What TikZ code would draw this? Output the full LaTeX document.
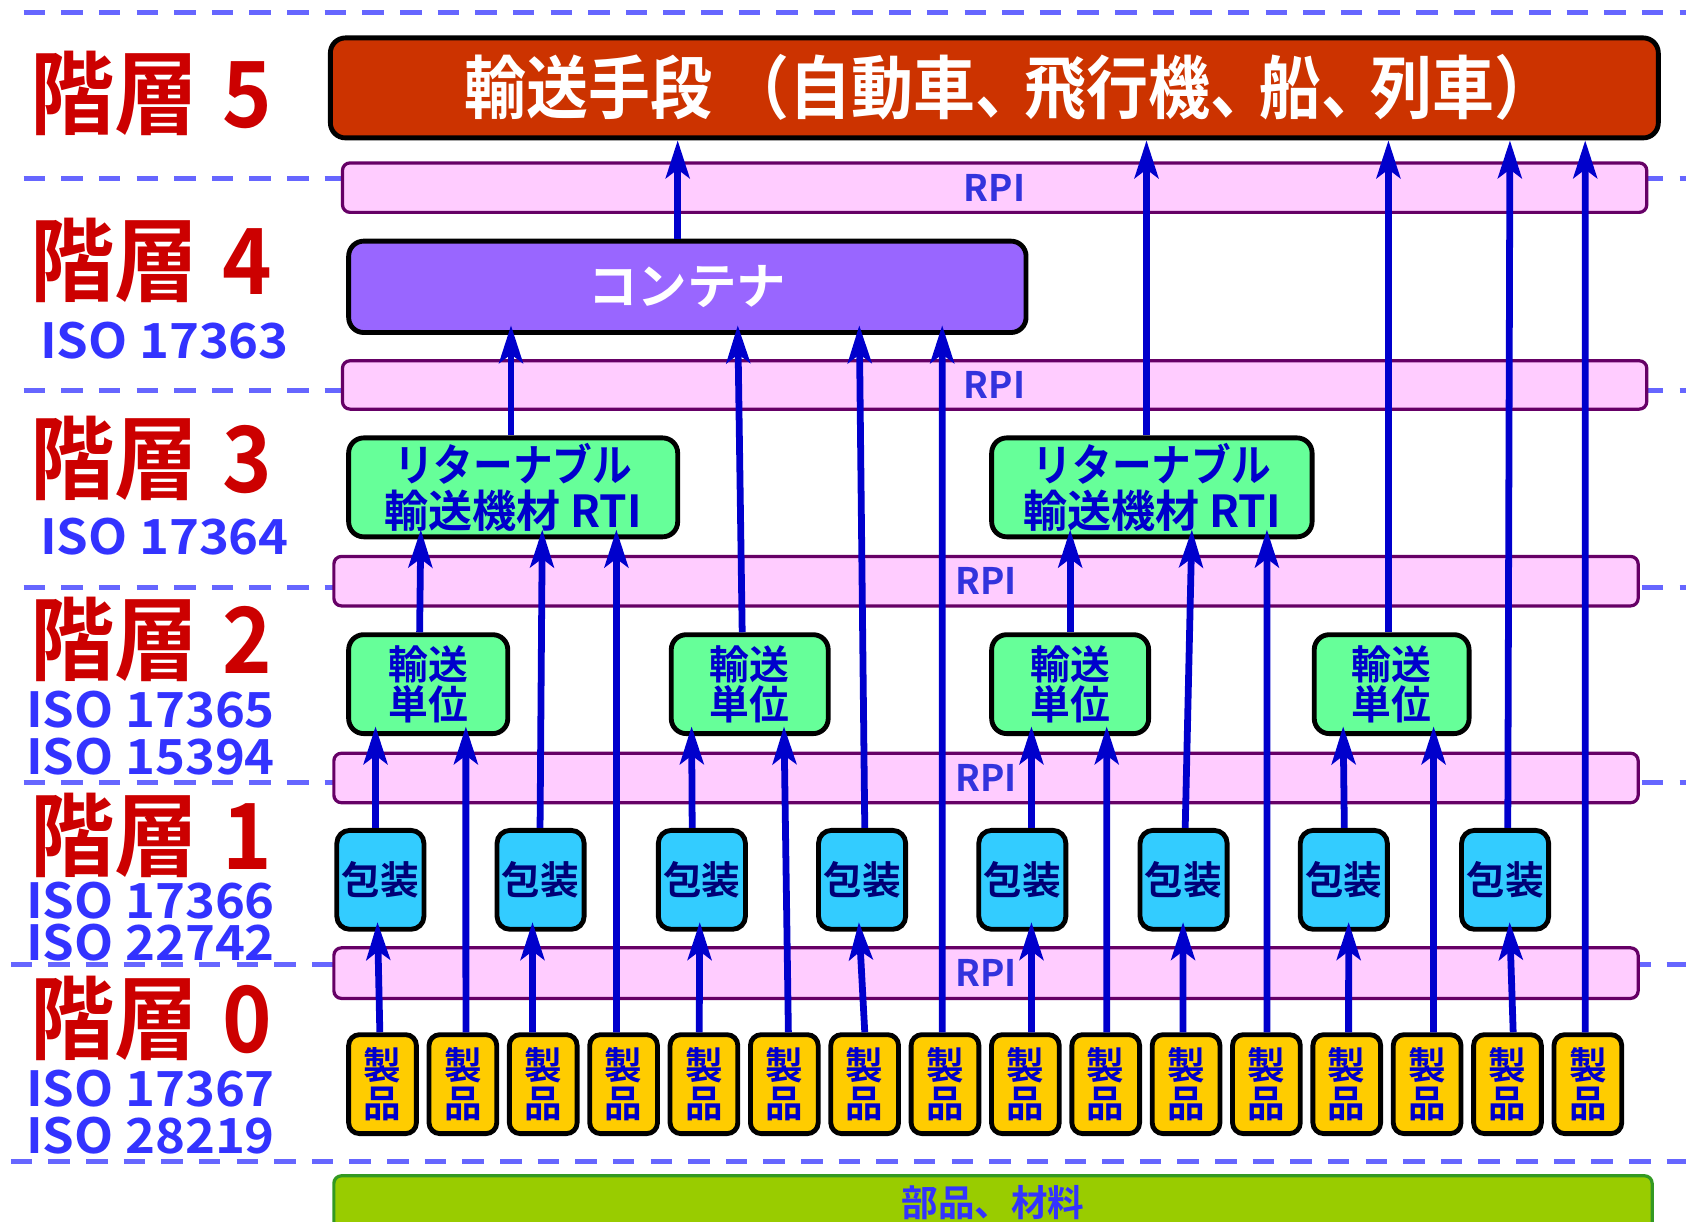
\documentclass[tikz,border=0pt]{standalone}
\usepackage{fontspec}
\usetikzlibrary{arrows.meta,calc}
\newfontfamily\jp{Noto Sans CJK JP Bold}
\newfontfamily\jpc{Noto Sans CJK JP Bold}[FakeStretch=0.92]
\newfontfamily\jpt{Noto Sans CJK JP Bold}[FakeStretch=0.9]
\newfontfamily\jpw{Noto Sans CJK JP Bold}[FakeStretch=1.05]
\definecolor{lfive}{HTML}{CC3300}
\definecolor{lcon}{HTML}{9966FF}
\definecolor{lgreen}{HTML}{66FF99}
\definecolor{lcyan}{HTML}{33CCFF}
\definecolor{lprod}{HTML}{FFCC00}
\definecolor{rpifill}{HTML}{FFCCFF}
\definecolor{rpiline}{HTML}{660066}
\definecolor{barfill}{HTML}{99CC00}
\definecolor{barline}{HTML}{339922}
\definecolor{arrblue}{HTML}{0000CC}
\definecolor{txtblue}{HTML}{0000CC}
\definecolor{navy}{HTML}{000077}
\definecolor{isoblue}{HTML}{3333FF}
\definecolor{rpitxt}{HTML}{3333DD}
\definecolor{lvlred}{HTML}{CC0000}
\definecolor{dashblue}{HTML}{6666FF}
\tikzset{
  box/.style={draw=black, line width=4.5pt, rounded corners=14pt, inner sep=0pt, anchor=north west, align=center},
  rpibar/.style={draw=rpiline, fill=rpifill, line width=3pt, rounded corners=7pt, inner sep=0pt, anchor=north west,
     text=rpitxt, font=\jp\fontsize{34}{34}\selectfont},
  arw/.style={draw=arrblue, line width=6.3pt, -{Stealth[length=35pt,width=22pt,inset=8pt]}, shorten >=-9pt},
  arwtop/.style={arw, shorten >=0pt},
  lvlline/.style={draw=dashblue, line width=4.5pt, dash pattern=on 20pt off 15pt},
  lvl/.style={anchor=west, inner sep=0pt, text=lvlred, font=\jpc\fontsize{85}{85}\selectfont},
  iso/.style={anchor=west, inner sep=0pt, text=isoblue, font=\jpw\fontsize{45}{45}\selectfont},
  prod/.style={box, fill=lprod, minimum width=63pt, minimum height=92pt, rounded corners=10pt,
     text=txtblue, font=\jp\fontsize{35}{36}\selectfont},
  pack/.style={box, fill=lcyan, minimum width=81pt, minimum height=92pt, rounded corners=12pt,
     text=navy, font=\jp\fontsize{36}{36}\selectfont},
  unit/.style={box, fill=lgreen, minimum height=92pt,
     text=txtblue, font=\jp\fontsize{37}{37}\selectfont},
  rti/.style={box, fill=lgreen, minimum height=92pt,
     text=txtblue, font=\jp\fontsize{41}{42}\selectfont},
}
\newcommand\arr[5][arw]{\draw[#1] ([xshift=#3]#2.north) -- ([xshift=#5]#4.south);}
\begin{document}
\begin{tikzpicture}[x=1pt,y=-1pt]
\useasboundingbox (0,0) rectangle (1568,1136);
% level lines
\draw[lvlline] (22,12) -- (1568,12);
\draw[lvlline] (22,166) -- (1568,166);
\draw[lvlline] (22,363) -- (1568,363);
\draw[lvlline] (22,546) -- (1568,546);
\draw[lvlline] (22,728) -- (1568,728);
\draw[lvlline] (10,897) -- (1568,897);
\draw[lvlline] (10,1080) -- (1568,1080);
% left labels
\node[lvl] (h5) at (28,87) {階層\hspace{22pt}5};
\node[lvl] (h4) at (28,242) {階層\hspace{22pt}4};
\node[lvl] (h3) at (28,426) {階層\hspace{22pt}3};
\node[lvl] (h2) at (28,595) {階層\hspace{22pt}2};
\node[lvl] (h1) at (28,777) {階層\hspace{22pt}1};
\node[lvl] (h0) at (28,947) {階層\hspace{22pt}0};
\node[iso] (i4) at (37,317) {ISO 17363};
\node[iso] (i3) at (37,499) {ISO 17364};
\node[iso] (i2a) at (24,660) {ISO 17365};
\node[iso] (i2b) at (24,704) {ISO 15394};
\node[iso] (i1a) at (24,838) {ISO 17366};
\node[iso] (i1b) at (24,877) {ISO 22742};
\node[iso] (i0a) at (24,1012) {ISO 17367};
\node[iso] (i0b) at (24,1056) {ISO 28219};
% RPI bars
\node[rpibar, minimum width=1213pt, minimum height=46pt] (R1) at (317,150) {RPI};
\node[rpibar, minimum width=1213pt, minimum height=45pt] (R2) at (317,334) {RPI};
\node[rpibar, minimum width=1213pt, minimum height=46pt] (R3) at (309,516) {RPI};
\node[rpibar, minimum width=1213pt, minimum height=46pt] (R4) at (309,699) {RPI};
\node[rpibar, minimum width=1213pt, minimum height=47pt] (R5) at (309,880) {RPI};
\node[draw=barline, fill=barfill, line width=3pt, rounded corners=7pt, inner sep=0pt, anchor=north west,
  minimum width=1226pt, minimum height=50pt, text=isoblue, font=\jp\fontsize{34}{34}\selectfont] (G) at (309,1092) {部品、材料};
% boxes
\node[box, fill=lfive, minimum width=1235pt, minimum height=93pt, text=white, font=\jpt\fontsize{64}{64}\selectfont] (L5) at (305,33)
  {輸送手段\hspace{14pt}（自動車、\hspace{-12pt}飛行機、\hspace{-12pt}船、\hspace{-12pt}列車）\hspace{-30pt}};
\node[box, fill=lcon, minimum width=630pt, minimum height=85pt, text=white, font=\jp\fontsize{46}{46}\selectfont] (CON) at (322,222) {コンテナ};
\node[rti, minimum width=306pt] (RA) at (322,405) {{\jpt リターナブル}\\輸送機材 RTI};
\node[rti, minimum width=298pt] (RB) at (920,405) {{\jpt リターナブル}\\輸送機材 RTI};
\node[unit, minimum width=148pt] (U1) at (322,588) {輸送\\単位};
\node[unit, minimum width=146pt] (U2) at (622,588) {輸送\\単位};
\node[unit, minimum width=146pt] (U3) at (920,588) {輸送\\単位};
\node[unit, minimum width=144pt] (U4) at (1220,588) {輸送\\単位};
\foreach \i/\x in {1/311,2/460,3/610,4/759,5/908,6/1058,7/1207,8/1357}
  \node[pack] (K\i) at (\x,770) {包装};
\foreach \i in {1,...,16}
  \node[prod] (P\i) at ({322+(\i-1)*74.73},960) {製\\品};
% connectors: products
\arr{P1}{-2.5}{K1}{-2.5}
\arr{P2}{2.8}{U1}{35}
\arr{P3}{-10}{K2}{-7.5}
\arr{P4}{-6.7}{RA}{96}
\arr{P5}{-4.4}{K3}{-2}
\arr{P6}{3.8}{U2}{32}
\arr{P7}{0.1}{K4}{-2.5}
\arr{P8}{-2.6}{CON}{237}
\arr{P9}{5.7}{K5}{8.5}
\arr{P10}{0.9}{U3}{34}
\arr{P11}{-2.8}{K6}{-0.5}
\arr{P12}{0.5}{RB}{107}
\arr{P13}{1.7}{K7}{4.5}
\arr{P14}{6}{U4}{39}
\arr{P15}{5.3}{K8}{4.5}
\arr[arwtop]{P16}{-2.5}{L5}{549.5}
% packages
\arr{K1}{-4.5}{U1}{-49}
\arr{K2}{-0.5}{RA}{27}
\arr{K3}{-9}{U2}{-54}
\arr{K4}{2.5}{CON}{160}
\arr{K5}{8.5}{U3}{-36}
\arr{K6}{1.5}{RB}{37}
\arr{K7}{0.5}{U4}{-45}
\arr[arwtop]{K8}{2.5}{L5}{479.5}
% transport units
\arr{U1}{-8}{RA}{-86}
\arr{U2}{-7}{CON}{47}
\arr{U3}{0}{RB}{-76}
\arr[arwtop]{U4}{-3}{L5}{366.5}
% RTI
\arr{RA}{-2}{CON}{-164}
\arr[arwtop]{RB}{-5}{L5}{141.5}
% container
\arr[arwtop]{CON}{-9}{L5}{-294.5}
\end{tikzpicture}
\end{document}
